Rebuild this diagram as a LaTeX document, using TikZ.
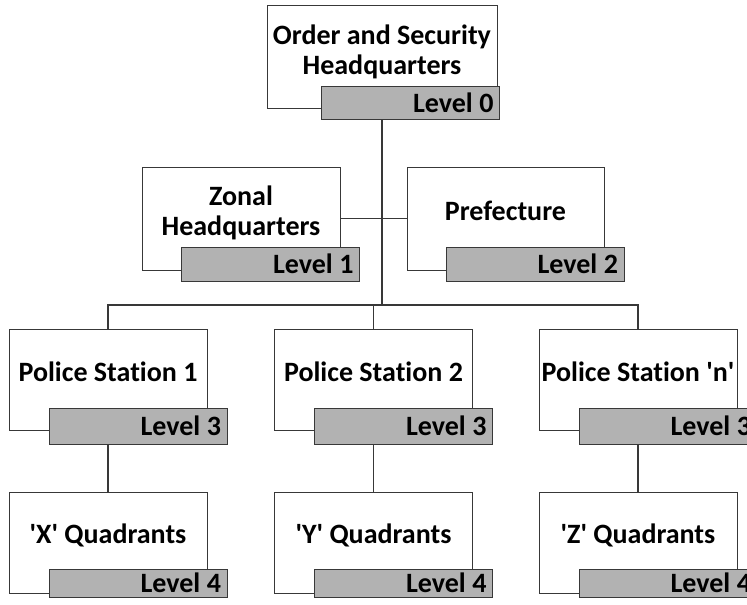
\documentclass[tikz,border=0pt]{standalone}
\usepackage{fontspec}
\setmainfont{Carlito}[Ligatures={NoCommon}]
\definecolor{linec}{gray}{0.22}
\definecolor{levelgray}{gray}{0.70}
\newcommand{\sq}{\textquotesingle}
\newcommand{\lv}[1]{Level\hspace{6.5pt}#1}
\begin{document}
\begin{tikzpicture}[x=1pt, y=-1pt,
  wbox/.style={draw=linec, fill=white, line width=1pt, inner sep=0pt,
               minimum width=198pt, minimum height=101pt},
  lvl/.style={draw=linec, fill=levelgray, line width=1pt, inner ysep=0pt,
              inner xsep=6pt, text width=166pt, align=right,
              minimum height=36pt, font=\fontsize{28}{30}\selectfont\bfseries},
  txt/.style={inner sep=0pt, align=center,
              font=\fontsize{28}{30}\selectfont\bfseries},
  conn/.style={draw=linec, line width=1.1pt}]
\useasboundingbox (0,0) rectangle (747,605);
\clip (0,0) rectangle (747,605);

% bus joining the police stations
\coordinate (bus) at (381,305);

% Level 0
\node[wbox, minimum width=230pt, minimum height=103pt] (hq) at (382,56.5) {};
\node[txt] (hqt) at ([yshift=5pt]hq.center) {Order and Security\\Headquarters};
\node[lvl, minimum height=33pt] (hqL) at (410.5,102.5) {\lv{0}};

% Level 1 and 2
\node[wbox, minimum height=103pt] (zonal) at (241,218.5) {};
\node[txt] (zonalt) at ([yshift=6pt]zonal.center) {Zonal\\Headquarters};
\node[lvl, minimum height=34pt] (zonalL) at (270.5,264) {\lv{1}};

\node[wbox, minimum width=197pt, minimum height=103pt] (pref) at (505.5,218.5) {};
\node[txt] (preft) at ([yshift=7.5pt]pref.center) {Prefecture};
\node[lvl, minimum height=34pt] (prefL) at (535,264) {\lv{2}};

% Level 3: police stations
\node[wbox] (ps1) at (108,379.5) {};
\node[txt] (ps1t) at ([yshift=7.5pt]ps1.center) {Police Station 1};
\node[lvl] (ps1L) at (138,426) {\lv{3}};

\node[wbox] (ps2) at (373.5,379.5) {};
\node[txt] (ps2t) at ([yshift=7.5pt]ps2.center) {Police Station 2};
\node[lvl] (ps2L) at (403.5,426) {\lv{3}};

\node[wbox] (psn) at (638,379.5) {};
\node[txt] (psnt) at ([yshift=7.5pt]psn.center) {Police Station \sq n\sq};
\node[lvl] (psnL) at (668,426) {\lv{3}};

% Level 4: quadrants
\node[wbox] (q1) at (108,542.5) {};
\node[txt] (q1t) at ([yshift=7pt]q1.center) {\sq X\sq{} Quadrants};
\node[lvl, minimum height=28pt] (q1L) at (138,583) {\lv{4}};

\node[wbox] (q2) at (373.5,542.5) {};
\node[txt] (q2t) at ([yshift=7pt]q2.center) {\sq Y\sq{} Quadrants};
\node[lvl, minimum height=28pt] (q2L) at (403.5,583) {\lv{4}};

\node[wbox] (qn) at (638,542.5) {};
\node[txt] (qnt) at ([yshift=7pt]qn.center) {\sq Z\sq{} Quadrants};
\node[lvl, minimum height=28pt] (qnL) at (668,583) {\lv{4}};

% connectors
\draw[conn] (hq.center |- hqL.south) -- (hq.center |- bus);
\draw[conn] (zonal.east) -- (pref.west);
\draw[conn] (ps1.north) -- (ps1.north |- bus) -- (psn.north |- bus) -- (psn.north);
\draw[conn] (ps2.north) -- (ps2.north |- bus);
\draw[conn] (ps1.center |- ps1L.south) -- (q1.north);
\draw[conn] (ps2.center |- ps2L.south) -- (q2.north);
\draw[conn] (psn.center |- psnL.south) -- (qn.north);
\end{tikzpicture}
\end{document}
